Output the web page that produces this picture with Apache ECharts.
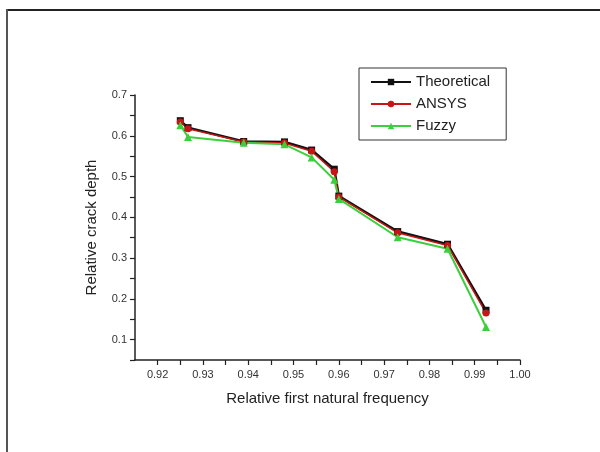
<!DOCTYPE html>
<html>
<head>
<meta charset="utf-8">
<script src="https://cdn.jsdelivr.net/npm/echarts@6/dist/echarts.min.js"></script>
<style>
  html, body { margin: 0; padding: 0; background: #fff; }
  #chart { width: 600px; height: 452px; }
</style>
</head>
<body>
<div id="chart"></div>
<script>
// Relative first natural frequency (shared x values)
const frequency = [0.925, 0.9267, 0.939, 0.948, 0.954, 0.959, 0.960, 0.973, 0.984, 0.9925];
// Relative crack depth for each method
const theoretical = [0.637, 0.620, 0.586, 0.585, 0.565, 0.518, 0.452, 0.365, 0.334, 0.172];
const ansys       = [0.634, 0.617, 0.585, 0.582, 0.562, 0.512, 0.450, 0.362, 0.331, 0.165];
const fuzzy       = [0.626, 0.597, 0.583, 0.579, 0.547, 0.492, 0.445, 0.351, 0.323, 0.131];
const seriesNames = ['Theoretical', 'ANSYS', 'Fuzzy'];

const pairs = ys => frequency.map((x, i) => [x, ys[i]]);
const font = '"Liberation Sans", Arial, sans-serif';

const chart = echarts.init(document.getElementById('chart'), null, { renderer: 'canvas' });
chart.setOption({
  animation: false,
  backgroundColor: '#fff',
  grid: { left: 135, right: 80, top: 95, bottom: 92, containLabel: false },
  xAxis: {
    type: 'value',
    min: 0.915, max: 1.0, interval: 0.005,
    name: 'Relative first natural frequency',
    nameLocation: 'middle', nameGap: 31,
    nameTextStyle: { fontFamily: font, fontSize: 15, color: '#222' },
    axisLine: { show: true, lineStyle: { color: '#222', width: 1.5 } },
    axisTick: { show: true, inside: false, length: 5, lineStyle: { color: '#222', width: 1.2 } },
    axisLabel: {
      fontFamily: font, fontSize: 11, color: '#333', margin: 9,
      showMinLabel: false,
      formatter: v => (Math.round(v * 1000) % 10 === 0 ? v.toFixed(2) : '')
    },
    splitLine: { show: false }
  },
  yAxis: {
    type: 'value',
    min: 0.05, max: 0.7, interval: 0.05,
    name: 'Relative crack depth',
    nameLocation: 'middle', nameGap: 36, nameRotate: 90,
    nameTextStyle: { fontFamily: font, fontSize: 15, color: '#222' },
    axisLine: { show: true, lineStyle: { color: '#222', width: 1.5 } },
    axisTick: { show: true, inside: false, length: 5, lineStyle: { color: '#222', width: 1.2 } },
    axisLabel: {
      fontFamily: font, fontSize: 11, color: '#333', margin: 8,
      formatter: v => (Math.round(v * 100) % 10 === 0 ? v.toFixed(1) : '')
    },
    splitLine: { show: false }
  },
  legend: {
    orient: 'vertical',
    left: 359, top: 68,
    padding: [6, 16, 6, 11],
    borderColor: '#333', borderWidth: 1,
    itemWidth: 40, itemHeight: 8, itemGap: 6,
    textStyle: { fontFamily: font, fontSize: 15, color: '#222', lineHeight: 16 },
    data: seriesNames
  },
  graphic: [
    { type: 'line', shape: { x1: 6, y1: 10, x2: 600, y2: 10 }, style: { stroke: '#222', lineWidth: 2 }, silent: true },
    { type: 'line', shape: { x1: 7, y1: 9, x2: 7, y2: 452 }, style: { stroke: '#555', lineWidth: 2 }, silent: true }
  ],
  series: [
    {
      name: seriesNames[0], type: 'line', data: pairs(theoretical),
      symbol: 'rect', symbolSize: 7,
      lineStyle: { color: '#111', width: 2.5 },
      itemStyle: { color: '#111' }
    },
    {
      name: seriesNames[1], type: 'line', data: pairs(ansys),
      symbol: 'circle', symbolSize: 7,
      lineStyle: { color: '#c81414', width: 1.5 },
      itemStyle: { color: '#c81414' }
    },
    {
      name: seriesNames[2], type: 'line', data: pairs(fuzzy),
      symbol: 'triangle', symbolSize: 8,
      lineStyle: { color: '#3ccf3c', width: 2 },
      itemStyle: { color: '#3ccf3c' }
    }
  ]
});
</script>
</body>
</html>
